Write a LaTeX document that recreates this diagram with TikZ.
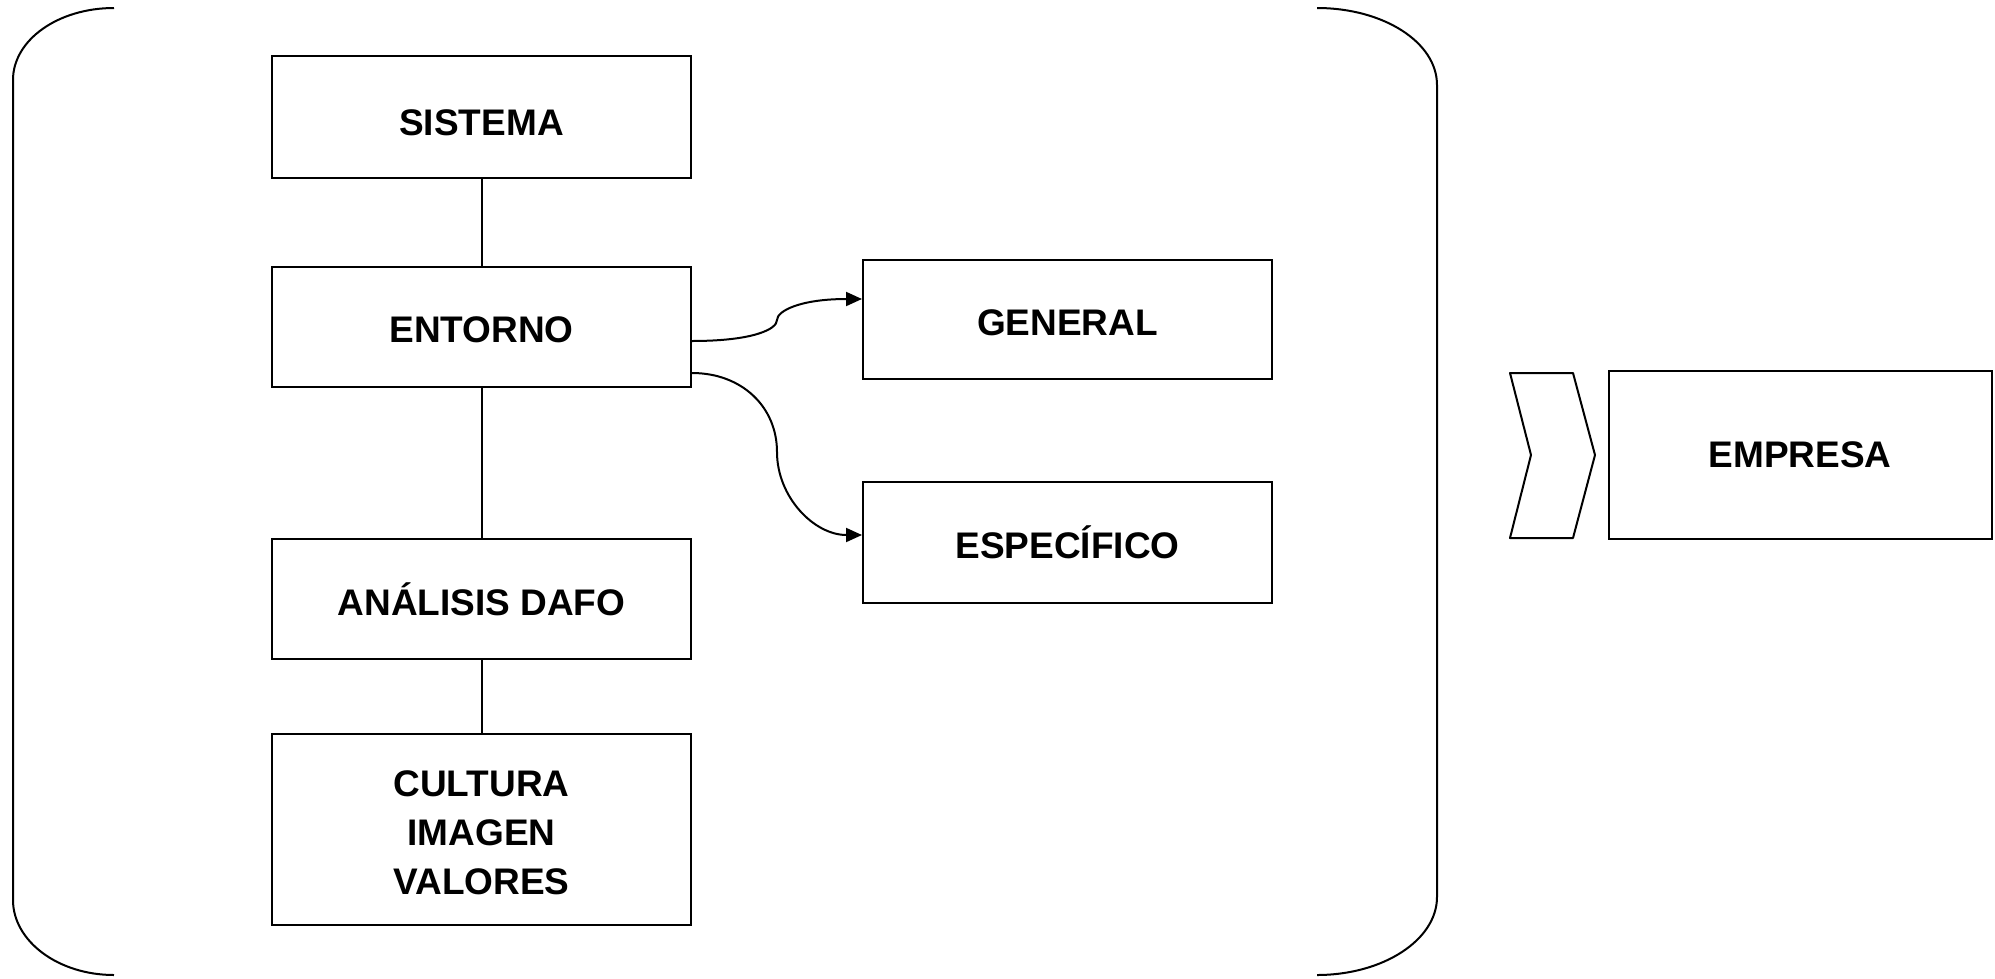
\documentclass[tikz,border=0pt]{standalone}
\usepackage{fontspec}
\setmainfont{Liberation Sans}
\usetikzlibrary{arrows.meta,calc}
\newcommand{\lowr}[2]{\raisebox{-#1}[\height][\depth]{#2}}
\begin{document}
\begin{tikzpicture}[x=1pt,y=-1pt,
  box/.style={draw,line width=2pt,inner sep=0pt,align=center,
    font=\fontsize{37}{49}\selectfont\bfseries},
  conn/.style={line width=2pt},
  arr/.style={line width=2pt,-{Triangle[length=16pt,width=14pt]}},
  frame/.style={line width=2pt}]
\useasboundingbox (0,0) rectangle (1995,978);
% nodes
\node[box,minimum width=419pt,minimum height=122pt] (sistema) at (481.5,117) {\lowr{6pt}{SISTEMA}};
\node[box,minimum width=419pt,minimum height=120pt] (entorno) at (481.5,327) {\lowr{3pt}{ENTORNO}};
\node[box,minimum width=419pt,minimum height=120pt] (dafo) at (481.5,599) {ANÁLISIS DAFO};
\node[box,minimum width=419pt,minimum height=191pt] (cultura) at (481.5,829.5)
  {\lowr{6pt}{\begin{tabular}{@{}c@{}}CULTURA\\IMAGEN\\VALORES\end{tabular}}};
\node[box,minimum width=409pt,minimum height=119pt] (general) at (1067.5,319.5) {\lowr{3pt}{GENERAL}};
\node[box,minimum width=409pt,minimum height=121pt] (especifico) at (1067.5,542.5) {ESPECÍFICO};
\node[box,minimum width=383pt,minimum height=168pt] (empresa) at (1800,455) {EMPRESA};
% vertical connectors
\draw[conn] (sistema.south) -- (entorno.north);
\draw[conn] (entorno.south) -- (dafo.north);
\draw[conn] (dafo.south) -- (cultura.north);
% curved connectors
\coordinate (m1) at (777,320);
\coordinate (m2) at (777,452);
\draw[arr] ($(entorno.east)+(0,14)$) .. controls +(62,0) and +(0,9) .. (m1)
  .. controls +(0,-9) and +(-62,0) .. ($(general.west)+(0,-20.5)$);
\draw[arr] ($(entorno.east)+(0,46)$) .. controls +(50,0) and +(0,-45) .. (m2)
  .. controls +(0,45) and +(-48,0) .. ($(especifico.west)+(0,-7.5)$);
% chevron
\draw[frame,line join=round] (1510,373) -- (1573,373) -- (1595,455) -- (1573,538)
  -- (1510,538) -- (1531,455) -- cycle;
% left bracket
\draw[frame] (114,8) .. controls (58,8) and (13,40) .. (13,80) -- (13,900)
  .. controls (13,941) and (58,975) .. (114,975);
% right bracket
\draw[frame] (1317,8) .. controls (1383,8) and (1437,42) .. (1437,85) -- (1437,897)
  .. controls (1437,940) and (1383,975) .. (1317,975);
\end{tikzpicture}
\end{document}
